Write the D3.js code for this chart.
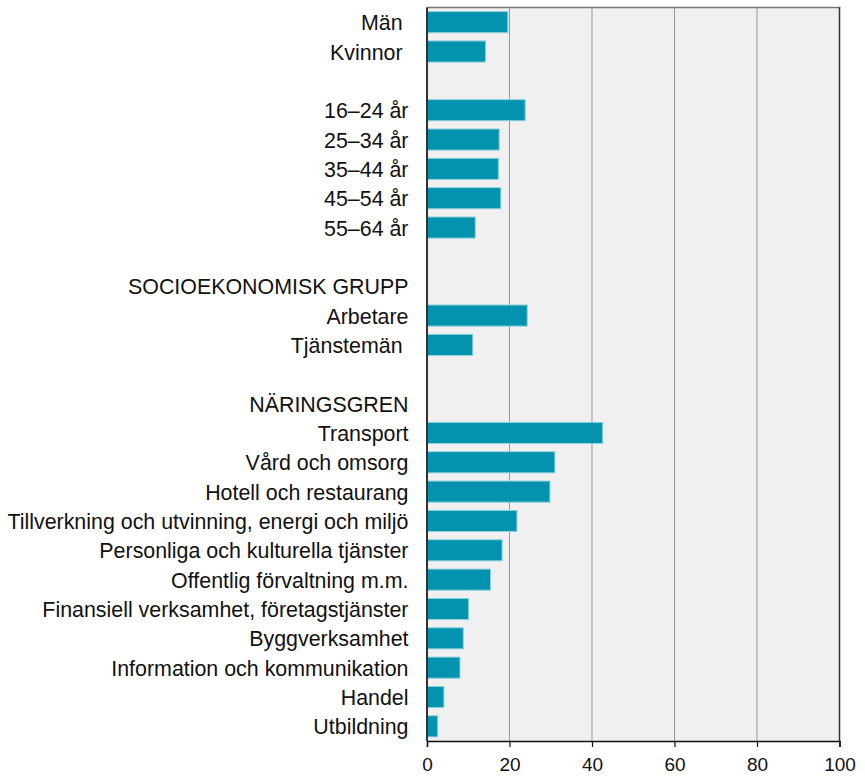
<!DOCTYPE html>
<html><head><meta charset="utf-8">
<script src="https://cdn.jsdelivr.net/npm/d3@7"></script>
<style>body{margin:0;background:#fff}svg{display:block}text{font-family:"Liberation Sans",Arial,sans-serif}</style>
</head><body><svg id="c" width="865" height="777"></svg>
<script>
const categories = ["Män ","Kvinnor ","","16–24 år","25–34 år","35–44 år","45–54 år","55–64 år","","SOCIOEKONOMISK GRUPP","Arbetare","Tjänstemän ","","NÄRINGSGREN","Transport","Vård och omsorg","Hotell och restaurang","Tillverkning och utvinning, energi och miljö","Personliga och kulturella tjänster","Offentlig förvaltning m.m.","Finansiell verksamhet, företagstjänster","Byggverksamhet","Information och kommunikation","Handel","Utbildning"];
const values = [19.6,14.2,null,23.8,17.5,17.3,17.9,11.7,null,null,24.3,11.1,null,null,42.6,31.0,29.8,21.8,18.2,15.4,10.1,8.8,8.0,4.1,2.6];
const xTicks = [0,20,40,60,80,100];

const svg = d3.select("#c");
const m = {l:427, r:839.5, t:7.5, b:741};
const x = d3.scaleLinear().domain([0,100]).range([m.l, m.r]);
const y = d3.scaleBand().domain(categories.map((d,i)=>i)).range([m.t, m.b]).paddingInner(0.28).paddingOuter(0.14);

svg.append("rect").attr("x",m.l).attr("y",m.t).attr("width",m.r-m.l).attr("height",m.b-m.t).attr("fill","#f0f0f0");

svg.append("g").selectAll("line").data(xTicks.slice(1,-1)).join("line")
  .attr("x1",d=>x(d)).attr("x2",d=>x(d)).attr("y1",m.t).attr("y2",m.b)
  .attr("stroke","#999").attr("stroke-width",1);

const rows = categories.map((c,i)=>({c, v:values[i], i}));
svg.append("g").selectAll("rect").data(rows.filter(d=>d.v!=null)).join("rect")
  .attr("x",x(0)).attr("y",d=>y(d.i)).attr("width",d=>x(d.v)-x(0)).attr("height",y.bandwidth())
  .attr("fill","#0493ae").attr("stroke","#8fd3de").attr("stroke-width",1);

// frame
svg.append("line").attr("x1",m.l).attr("x2",m.r+1).attr("y1",m.t).attr("y2",m.t).attr("stroke","#777").attr("stroke-width",1.5);
svg.append("line").attr("x1",m.r).attr("x2",m.r).attr("y1",m.t).attr("y2",m.b).attr("stroke","#333").attr("stroke-width",1.5);
svg.append("line").attr("x1",m.l).attr("x2",m.l).attr("y1",m.t).attr("y2",m.b).attr("stroke","#333").attr("stroke-width",2);

const xAxis = svg.append("g").attr("transform",`translate(0,${m.b})`)
  .call(d3.axisBottom(x).tickValues(xTicks).tickSize(6).tickPadding(11));
xAxis.select(".domain").attr("stroke","#111").attr("stroke-width",1.5);
xAxis.selectAll(".tick line").attr("stroke","#111").attr("stroke-width",1.2);
xAxis.selectAll("text").attr("font-size",19).attr("fill","#111").attr("font-family","Liberation Sans, Arial, sans-serif");

svg.append("g").selectAll("text").data(rows.filter(d=>d.c.trim()!=="")).join("text")
  .attr("x",408.5).attr("y",d=>y(d.i)+y.bandwidth()/2).attr("dy","0.38em")
  .attr("text-anchor","end").attr("font-size",21.4).attr("fill","#111")
  .style("white-space","pre").attr("xml:space","preserve")
  .text(d=>d.c);
</script></body></html>
